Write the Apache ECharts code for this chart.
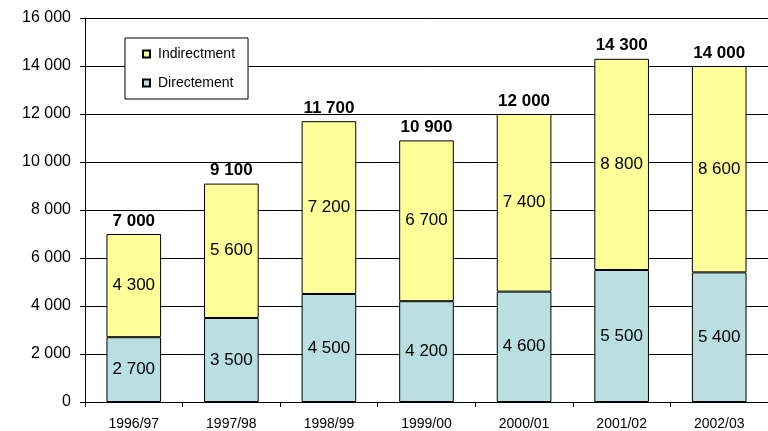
<!DOCTYPE html>
<html><head><meta charset="utf-8">
<script src="https://cdn.jsdelivr.net/npm/echarts@6/dist/echarts.min.js"></script>
<style>html,body{margin:0;padding:0;background:#fff}#c{width:768px;height:431px}</style>
</head><body><div id="c"></div>
<script>
const categories = ['1996/97','1997/98','1998/99','1999/00','2000/01','2001/02','2002/03'];
const directement = [2700,3500,4500,4200,4600,5500,5400];
const indirectement = [4300,5600,7200,6700,7400,8800,8600];
const totals = categories.map((c,i)=>directement[i]+indirectement[i]);
const fmt = v => String(v).replace(/\B(?=(\d{3})+(?!\d))/g,' ');
const FONT = 'Liberation Sans, Arial, sans-serif';
const chart = echarts.init(document.getElementById('c'));
chart.setOption({
  animation:false,
  textStyle:{fontFamily:FONT},
  grid:{left:85,width:690,top:18,bottom:27},
  legend:{
    orient:'vertical', left:125, top:38,
    data:['Indirectment','Directement'],
    backgroundColor:'#fff', borderColor:'#000', borderWidth:1,
    padding:[9,13,9,17], itemGap:15, itemWidth:7, itemHeight:7,
    icon:'rect',
    textStyle:{fontFamily:FONT,fontSize:14,color:'#000',padding:[0,0,0,3]}
  },
  xAxis:{
    type:'category', data:categories,
    axisLine:{lineStyle:{color:'#000'}},
    axisTick:{show:true,length:5,lineStyle:{color:'#000'}},
    axisLabel:{color:'#000',fontSize:14,fontFamily:FONT,margin:15}
  },
  yAxis:{
    type:'value', min:0, max:16000, interval:2000,
    axisLine:{show:true,lineStyle:{color:'#000'}},
    axisTick:{show:true,length:5,lineStyle:{color:'#000'}},
    splitLine:{lineStyle:{color:'#000'}},
    axisLabel:{color:'#000',fontSize:16,fontFamily:FONT,margin:14,formatter:fmt}
  },
  series:[
    {name:'Directement',type:'bar',stack:'a',data:directement,barWidth:'56%',
     itemStyle:{color:'#B9DFE1',borderColor:'#000',borderWidth:1},
     label:{show:true,position:'inside',color:'#000',fontSize:17,fontFamily:FONT,formatter:p=>fmt(p.value)}},
    {name:'Indirectment',type:'bar',stack:'a',data:indirectement,barWidth:'56%',
     itemStyle:{color:'#FFFF99',borderColor:'#000',borderWidth:1},
     label:{show:true,position:'inside',color:'#000',fontSize:17,fontFamily:FONT,formatter:p=>fmt(p.value)}},
    {name:'Total',type:'line',data:totals,symbol:'circle',symbolSize:1,
     itemStyle:{color:'rgba(0,0,0,0)'},lineStyle:{width:0,color:'rgba(0,0,0,0)'},silent:true,z:5,
     label:{show:true,position:'top',distance:4,color:'#000',fontSize:17,fontWeight:'bold',fontFamily:FONT,formatter:p=>fmt(p.value)}}
  ]
});
</script></body></html>
